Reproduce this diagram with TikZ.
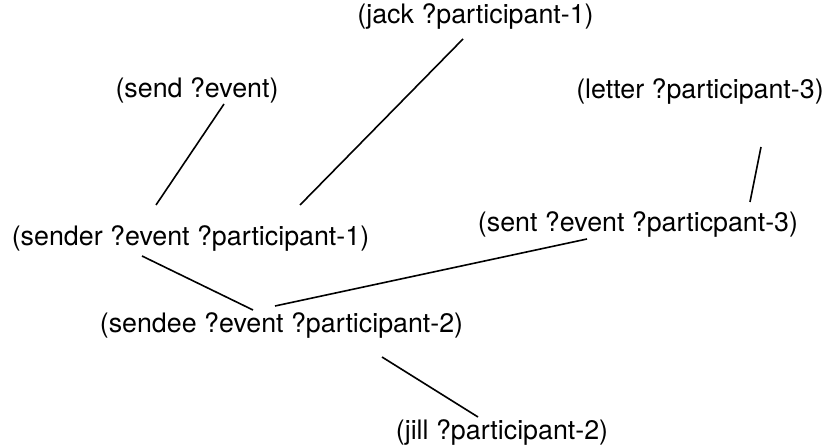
\documentclass[tikz,border=0pt]{standalone}
\usepackage{fontspec}
\setmainfont{TeX Gyre Heros}
\begin{document}
\begin{tikzpicture}[x=1pt,y=-1pt,
  term/.style={inner sep=0pt, font=\fontsize{26.8}{32}\selectfont},
  link/.style={line width=1.6pt, black}]
\useasboundingbox (0,0) rectangle (827,446);
\node[term] (jack)   at (475.5,16)   {(jack ?participant-1)};
\node[term] (send)   at (197,90)     {(send ?event)};
\node[term] (letter) at (700,91)     {(letter ?participant-3)};
\node[term] (sent)   at (638,224)    {(sent ?event ?particpant-3)};
\node[term] (sender) at (190.5,238.5){(sender ?event ?participant-1)};
\node[term] (sendee) at (281.5,325)  {(sendee ?event ?participant-2)};
\node[term] (jill)   at (502,432.5)  {(jill ?participant-2)};
\draw[link] ([shift={(27,14)}]send.center) -- ([shift={(-34.5,-33.5)}]sender.center);
\draw[link] ([shift={(-12.5,23)}]jack.center) -- ([shift={(109.5,-33.5)}]sender.center);
\draw[link] ([shift={(61,56)}]letter.center) -- ([shift={(112,-22)}]sent.center);
\draw[link] ([shift={(-48.5,17.5)}]sender.center) -- ([shift={(-28.5,-15)}]sendee.center);
\draw[link] ([shift={(-51,15)}]sent.center) -- ([shift={(-6.5,-19)}]sendee.center);
\draw[link] ([shift={(100.5,32)}]sendee.center) -- ([shift={(-24,-15.5)}]jill.center);
\end{tikzpicture}
\end{document}
